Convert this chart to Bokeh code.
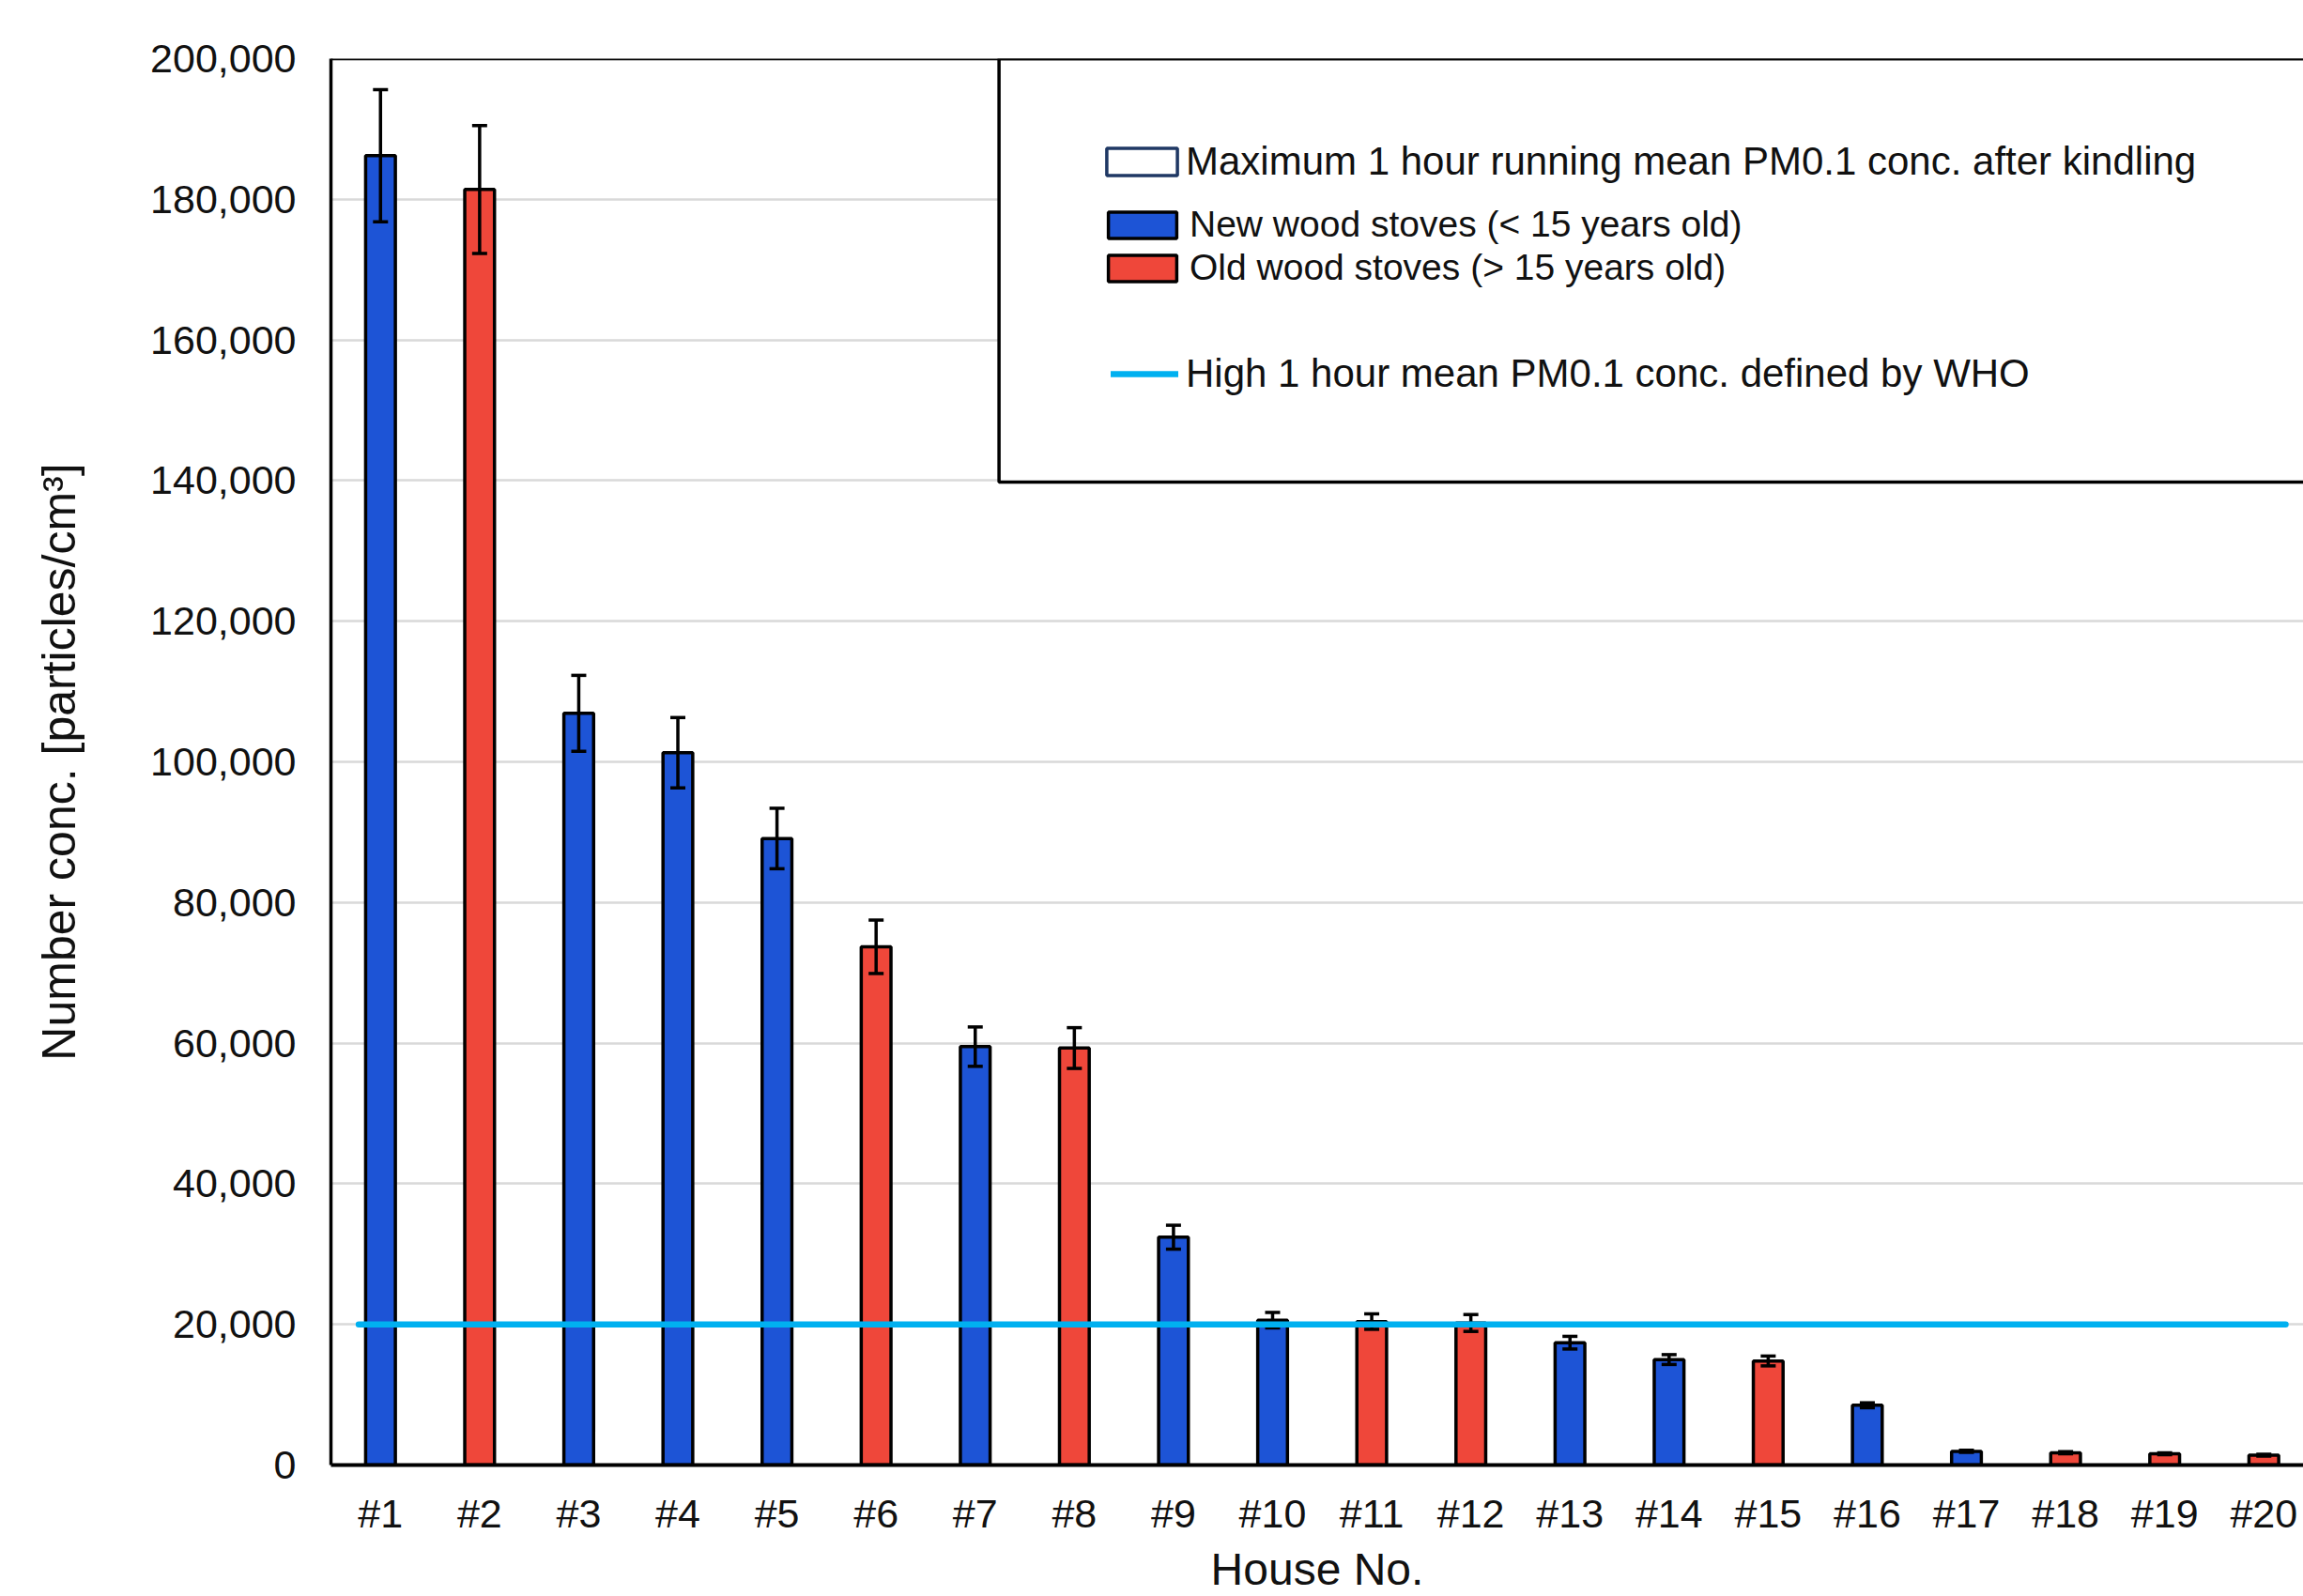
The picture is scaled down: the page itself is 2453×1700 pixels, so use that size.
from bokeh.plotting import figure
from bokeh.models import (ColumnDataSource, FixedTicker, NumeralTickFormatter, Span,
                          Legend, LegendItem, Range1d)
from bokeh.embed import file_html
from bokeh.resources import INLINE

# ---------------- data ----------------
houses = ["#1", "#2", "#3", "#4", "#5", "#6", "#7", "#8", "#9", "#10",
          "#11", "#12", "#13", "#14", "#15", "#16", "#17", "#18", "#19", "#20"]
stove_type = ["new", "old", "new", "new", "new", "old", "new", "old", "new", "new",
              "old", "old", "new", "new", "old", "new", "new", "old", "old", "old"]
max_conc = [186200, 181400, 106900, 101300, 89100, 73700, 59500, 59300, 32400, 20600,
            20400, 20200, 17400, 15000, 14800, 8500, 1950, 1750, 1600, 1400]
conc_err = [9400, 9100, 5400, 5000, 4300, 3800, 2800, 2900, 1700, 1100,
            1100, 1200, 900, 700, 700, 350, 150, 150, 120, 120]
y_ticks = [0, 20000, 40000, 60000, 80000, 100000, 120000, 140000, 160000, 180000, 200000]
who_threshold = 20000

label_max = "Maximum 1 hour running mean PM0.1 conc. after kindling"
label_new = "New wood stoves (< 15 years old)"
label_old = "Old wood stoves (> 15 years old)"
label_who = "High 1 hour mean PM0.1 conc. defined by WHO"

# ---------------- styling ----------------
FONT = "Liberation Sans"
BLUE = "#1D54D6"
RED = "#EF473A"
WHO_C = "#00B0F0"
NAVY = "#1F3864"
TXT = "#111111"
LW = 3.5

xpos = list(range(1, len(houses) + 1))


def subset(kind):
    idx = [i for i, t in enumerate(stove_type) if t == kind]
    return ColumnDataSource(dict(x=[xpos[i] for i in idx],
                                 top=[max_conc[i] for i in idx]))


err_src = ColumnDataSource(dict(
    x=xpos,
    lower=[v - e for v, e in zip(max_conc, conc_err)],
    upper=[v + e for v, e in zip(max_conc, conc_err)],
))

p = figure(width=2453, height=1700, output_backend="svg", toolbar_location=None,
           x_range=Range1d(0.5, 20.4), y_range=Range1d(0, 200000),
           min_border_left=352, min_border_right=0, min_border_top=62,
           min_border_bottom=139)
p.outline_line_color = None
p.background_fill_color = "white"

# legend frame (opaque box in the upper right of the plot)
p.quad(left=[7.24], right=[25], bottom=[139800], top=[200000],
       fill_color="white", line_color="black", line_width=LW)

# bars
r_new = p.vbar(x="x", top="top", width=0.3, source=subset("new"),
               fill_color=BLUE, line_color="black", line_width=LW)
r_old = p.vbar(x="x", top="top", width=0.3, source=subset("old"),
               fill_color=RED, line_color="black", line_width=LW)
# legend-only glyph for the "maximum" key (no drawable value)
r_max = p.vbar(x=[xpos[0]], top=[float("nan")], width=0.3, fill_color="white",
               line_color=NAVY, line_width=LW)

# error bars
p.segment(x0="x", y0="lower", x1="x", y1="upper", source=err_src,
          line_color="black", line_width=LW)
p.scatter(x="x", y="upper", source=err_src, marker="dash", size=16,
          line_color="black", line_width=LW)
p.scatter(x="x", y="lower", source=err_src, marker="dash", size=16,
          line_color="black", line_width=LW)

# WHO threshold line
r_who = p.line(x=[xpos[0] - 0.22, xpos[-1] + 0.22], y=[who_threshold, who_threshold],
               line_color=WHO_C, line_width=6.5, line_cap="round")

# top border of plot area
p.add_layout(Span(location=y_ticks[-1], dimension="width", line_color="black",
                  line_width=LW))

# axes
p.xaxis.ticker = FixedTicker(ticks=xpos)
p.xaxis.major_label_overrides = {x: h for x, h in zip(xpos, houses)}
p.yaxis.ticker = FixedTicker(ticks=y_ticks)
p.yaxis.formatter = NumeralTickFormatter(format="0,0")
for ax in (p.xaxis[0], p.yaxis[0]):
    ax.major_tick_line_color = None
    ax.minor_tick_line_color = None
    ax.axis_line_color = "black"
    ax.major_label_text_font = FONT
    ax.major_label_text_font_size = "43px"
    ax.major_label_text_color = TXT
    ax.axis_label_text_font = FONT
    ax.axis_label_text_font_style = "normal"
    ax.axis_label_text_color = TXT
p.xaxis.axis_line_width = 4
p.yaxis.axis_line_width = 3.5
p.xaxis.axis_label = "House No."
p.xaxis.axis_label_text_font_size = "48px"
p.xaxis.major_label_standoff = 21
p.xaxis.axis_label_standoff = 6
p.yaxis.axis_label = "Number conc. [particles/cm³]"
p.yaxis.axis_label_text_font_size = "50px"
p.yaxis.major_label_standoff = 31
p.yaxis.axis_label_standoff = 66

p.xgrid.visible = False
p.ygrid.grid_line_color = "#D9D9D9"
p.ygrid.grid_line_width = 2.5


def make_legend(items, loc, fs, gw, gh, standoff, spacing=0):
    lg = Legend(items=items, location=loc, orientation="vertical",
                label_text_font=FONT, label_text_font_size=fs,
                label_text_color=TXT, glyph_width=gw, glyph_height=gh,
                label_standoff=standoff, spacing=spacing, padding=0, margin=0,
                border_line_color=None, background_fill_alpha=0)
    p.add_layout(lg, "center")


make_legend([LegendItem(label=label_max, renderers=[r_max])],
            (817, 1364), "42px", 94, 36, 0)
make_legend([LegendItem(label=label_new, renderers=[r_new]),
             LegendItem(label=label_old, renderers=[r_old])],
            (819, 1253), "39px", 91, 35, 5, spacing=2)
make_legend([LegendItem(label=label_who, renderers=[r_who])],
            (831, 1138), "42px", 72, 20, 8)

open("out.html", "w").write(file_html(p, INLINE))
